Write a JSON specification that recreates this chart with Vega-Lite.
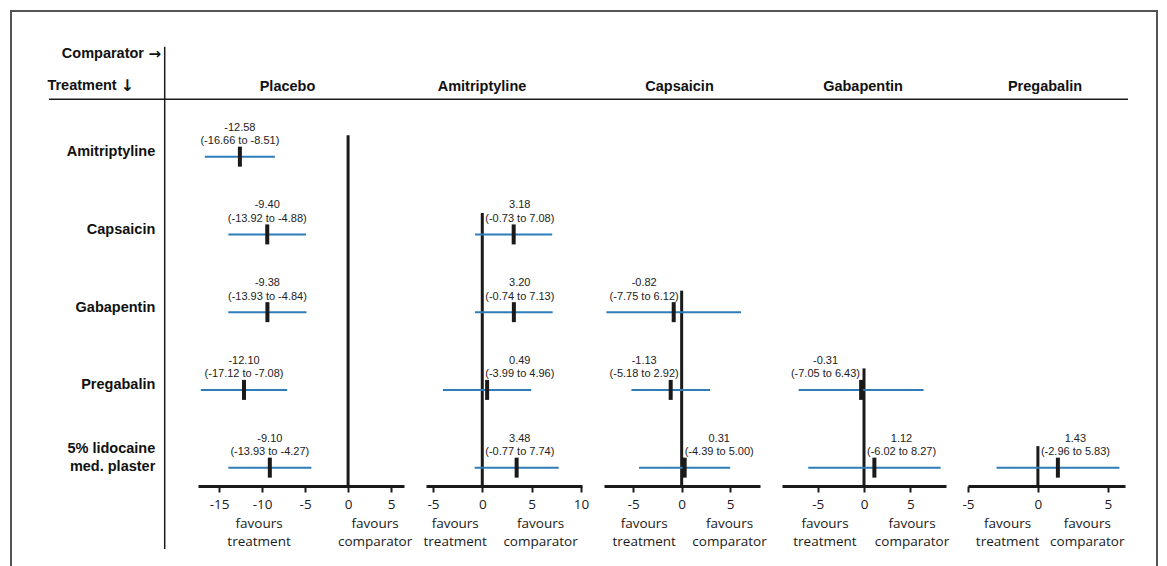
{
  "$schema": "https://vega.github.io/schema/vega-lite/v6.json",
  "background": "white",
  "padding": {"left": 10, "top": 10, "right": 0, "bottom": 0},
  "config": {
    "view": {"stroke": null},
    "font": "Liberation Sans",
    "locale": {"number": {"decimal": ".", "thousands": ",", "grouping": [3], "currency": ["$", ""], "minus": "-"}},
    "title": {"font": "Liberation Sans", "fontSize": 14.5, "fontWeight": "bold", "color": "#111111", "offset": 16, "anchor": "middle"},
    "tick": {"opacity": 1},
    "axisX": {"domainColor": "#1a1a1a", "domainWidth": 3, "tickColor": "#1a1a1a", "tickWidth": 2, "tickSize": 6, "labelFont": "Open Sans", "labelFontSize": 13.5, "labelColor": "#1a1a1a", "labelPadding": 5, "grid": false, "labelFlush": false, "labelOverlap": false, "labelBound": false}
  },
  "datasets": {
    "cmp": [
      {"treatment": "Amitriptyline", "row": 1, "comparator": "Placebo", "est": -12.58, "lo": -16.66, "hi": -8.51, "ci": "(-16.66 to -8.51)"},
      {"treatment": "Capsaicin", "row": 2, "comparator": "Placebo", "est": -9.40, "lo": -13.92, "hi": -4.88, "ci": "(-13.92 to -4.88)"},
      {"treatment": "Gabapentin", "row": 3, "comparator": "Placebo", "est": -9.38, "lo": -13.93, "hi": -4.84, "ci": "(-13.93 to -4.84)"},
      {"treatment": "Pregabalin", "row": 4, "comparator": "Placebo", "est": -12.10, "lo": -17.12, "hi": -7.08, "ci": "(-17.12 to -7.08)"},
      {"treatment": "5% lidocaine med. plaster", "row": 5, "comparator": "Placebo", "est": -9.10, "lo": -13.93, "hi": -4.27, "ci": "(-13.93 to -4.27)"},
      {"treatment": "Capsaicin", "row": 2, "comparator": "Amitriptyline", "est": 3.18, "lo": -0.73, "hi": 7.08, "ci": "(-0.73 to 7.08)"},
      {"treatment": "Gabapentin", "row": 3, "comparator": "Amitriptyline", "est": 3.20, "lo": -0.74, "hi": 7.13, "ci": "(-0.74 to 7.13)"},
      {"treatment": "Pregabalin", "row": 4, "comparator": "Amitriptyline", "est": 0.49, "lo": -3.99, "hi": 4.96, "ci": "(-3.99 to 4.96)"},
      {"treatment": "5% lidocaine med. plaster", "row": 5, "comparator": "Amitriptyline", "est": 3.48, "lo": -0.77, "hi": 7.74, "ci": "(-0.77 to 7.74)"},
      {"treatment": "Gabapentin", "row": 3, "comparator": "Capsaicin", "est": -0.82, "lo": -7.75, "hi": 6.12, "ci": "(-7.75 to 6.12)"},
      {"treatment": "Pregabalin", "row": 4, "comparator": "Capsaicin", "est": -1.13, "lo": -5.18, "hi": 2.92, "ci": "(-5.18 to 2.92)"},
      {"treatment": "5% lidocaine med. plaster", "row": 5, "comparator": "Capsaicin", "est": 0.31, "lo": -4.39, "hi": 5.00, "ci": "(-4.39 to 5.00)"},
      {"treatment": "Pregabalin", "row": 4, "comparator": "Gabapentin", "est": -0.31, "lo": -7.05, "hi": 6.43, "ci": "(-7.05 to 6.43)"},
      {"treatment": "5% lidocaine med. plaster", "row": 5, "comparator": "Gabapentin", "est": 1.12, "lo": -6.02, "hi": 8.27, "ci": "(-6.02 to 8.27)"},
      {"treatment": "5% lidocaine med. plaster", "row": 5, "comparator": "Pregabalin", "est": 1.43, "lo": -2.96, "hi": 5.83, "ci": "(-2.96 to 5.83)"}
    ],
    "trt": [
      {"row": 1, "label": "Amitriptyline"},
      {"row": 2, "label": "Capsaicin"},
      {"row": 3, "label": "Gabapentin"},
      {"row": 4, "label": "Pregabalin"},
      {"row": 5, "label": "5% lidocaine\nmed. plaster"}
    ]
  },
  "bounds": "flush",
  "spacing": 22,
  "hconcat": [
    {
      "width": 165, "height": 376,
      "data": {"name": "trt"},
      "encoding": {"y": {"field": "row", "type": "quantitative", "scale": {"domain": [0.4, 5.236], "reverse": true, "nice": false, "zero": false}, "axis": null}},
      "layer": [
        {"transform": [{"filter": "datum.row == 1"}],
         "mark": {"type": "rect", "filled": false, "color": "#555555", "strokeWidth": 2},
         "encoding": {"x": {"datum": 0, "type": "quantitative", "scale": {"domain": [0, 165], "nice": false, "zero": false}, "axis": null}, "x2": {"datum": 1146}, "y": {"datum": -0.873, "type": "quantitative"}, "y2": {"datum": 7}}},
        {"transform": [{"filter": "datum.row < 5"}],
         "mark": {"type": "text", "align": "right", "baseline": "middle", "dy": -4.5, "fontSize": 14.5, "fontWeight": "bold", "color": "#111111"},
         "encoding": {"x": {"datum": 144.3, "type": "quantitative"}, "text": {"field": "label"}}},
        {"transform": [{"filter": "datum.row == 5"}],
         "mark": {"type": "text", "align": "right", "baseline": "middle", "dy": -18.5, "lineBreak": "\n", "lineHeight": 18, "fontSize": 14.5, "fontWeight": "bold", "color": "#111111"},
         "encoding": {"x": {"datum": 144.3, "type": "quantitative"}, "text": {"field": "label"}}},
        {"transform": [{"filter": "datum.row == 1"}],
         "mark": {"type": "text", "text": "Comparator", "align": "right", "baseline": "middle", "fontSize": 14.5, "fontWeight": "bold", "color": "#111111"},
         "encoding": {"x": {"datum": 133, "type": "quantitative"}, "y": {"datum": -0.32, "type": "quantitative"}}},
        {"transform": [{"filter": "datum.row == 1"}],
         "mark": {"type": "text", "text": "→", "font": "DejaVu Sans", "align": "left", "baseline": "middle", "fontSize": 15, "fontWeight": "bold", "color": "#111111"},
         "encoding": {"x": {"datum": 137.5, "type": "quantitative"}, "y": {"datum": -0.32, "type": "quantitative"}}},
        {"transform": [{"filter": "datum.row == 1"}],
         "mark": {"type": "text", "text": "Treatment", "align": "right", "baseline": "middle", "fontSize": 14.5, "fontWeight": "bold", "color": "#111111"},
         "encoding": {"x": {"datum": 105.7, "type": "quantitative"}, "y": {"datum": 0.091, "type": "quantitative"}}},
        {"transform": [{"filter": "datum.row == 1"}],
         "mark": {"type": "text", "text": "↓", "font": "DejaVu Sans", "align": "left", "baseline": "middle", "fontSize": 16, "fontWeight": "bold", "color": "#111111"},
         "encoding": {"x": {"datum": 109.5, "type": "quantitative"}, "y": {"datum": 0.091, "type": "quantitative"}}},
        {"transform": [{"filter": "datum.row == 1"}],
         "mark": {"type": "rule", "color": "#1a1a1a", "strokeWidth": 1.5},
         "encoding": {"x": {"datum": 153.7, "type": "quantitative"}, "y": {"datum": -0.414, "type": "quantitative"}, "y2": {"datum": 6.046}}},
        {"transform": [{"filter": "datum.row == 1"}],
         "mark": {"type": "rule", "color": "#1a1a1a", "strokeWidth": 1.5},
         "encoding": {"x": {"datum": 38, "type": "quantitative"}, "x2": {"datum": 1117}, "y": {"datum": 0.262, "type": "quantitative"}}}
      ]
    },
    {
      "width": 206, "height": 376,
      "title": {"text": "Placebo", "dx": -13.5},
      "data": {"name": "cmp"},
      "transform": [{"filter": "datum.comparator === 'Placebo'"}],
      "encoding": {"y": {"field": "row", "type": "quantitative", "scale": {"domain": [0.4, 5.236], "reverse": true, "nice": false, "zero": false}, "axis": null}},
      "layer": [
        {"mark": {"type": "rule", "color": "#1a1a1a", "strokeWidth": 3, "yOffset": -21.5},
         "encoding": {"x": {"datum": 0, "type": "quantitative", "scale": {"domain": [-17.45, 6.5], "nice": false, "zero": false}, "axis": {"values": [-15, -10, -5, 0, 5], "title": null}},
                      "y": {"aggregate": "min", "field": "row", "type": "quantitative"}, "y2": {"datum": 5.236}}},
        {"mark": {"type": "rule", "color": "#2f7db8", "strokeWidth": 2},
         "encoding": {"x": {"field": "lo", "type": "quantitative", "title": null}, "x2": {"field": "hi"}}},
        {"mark": {"type": "tick", "orient": "vertical", "color": "#1a1a1a", "opacity": 1, "thickness": 4, "size": 20},
         "encoding": {"x": {"field": "est", "type": "quantitative", "title": null}}},
        {"mark": {"type": "text", "dy": -29, "fontSize": 11, "color": "#222222", "baseline": "middle"},
         "encoding": {"x": {"field": "est", "type": "quantitative", "title": null}, "text": {"field": "est", "type": "quantitative", "format": ".2f"}}},
        {"mark": {"type": "text", "dy": -15.5, "fontSize": 11, "color": "#222222", "baseline": "middle"},
         "encoding": {"x": {"field": "est", "type": "quantitative", "title": null}, "text": {"field": "ci"}}},
        {"transform": [{"filter": "datum.row == 5"}],
         "mark": {"type": "text", "text": ["favours", "treatment"], "font": "Open Sans", "fontSize": 13.5, "lineHeight": 18, "baseline": "top", "color": "#1a1a1a"},
         "encoding": {"x": {"datum": -10.35, "type": "quantitative"}, "y": {"datum": 5.632, "type": "quantitative"}}},
        {"transform": [{"filter": "datum.row == 5"}],
         "mark": {"type": "text", "text": ["favours", "comparator"], "font": "Open Sans", "fontSize": 13.5, "lineHeight": 18, "baseline": "top", "color": "#1a1a1a"},
         "encoding": {"x": {"datum": 3.14, "type": "quantitative"}, "y": {"datum": 5.632, "type": "quantitative"}}}
      ]
    },
    {
      "width": 156, "height": 376,
      "title": {"text": "Amitriptyline", "dx": -22},
      "data": {"name": "cmp"},
      "transform": [{"filter": "datum.comparator === 'Amitriptyline'"}],
      "encoding": {"y": {"field": "row", "type": "quantitative", "scale": {"domain": [0.4, 5.236], "reverse": true, "nice": false, "zero": false}, "axis": null}},
      "layer": [
        {"mark": {"type": "rule", "color": "#1a1a1a", "strokeWidth": 3, "yOffset": -21.5},
         "encoding": {"x": {"datum": 0, "type": "quantitative", "scale": {"domain": [-5.7, 10.1], "nice": false, "zero": false}, "axis": {"values": [-5, 0, 5, 10], "title": null}},
                      "y": {"aggregate": "min", "field": "row", "type": "quantitative"}, "y2": {"datum": 5.236}}},
        {"mark": {"type": "rule", "color": "#2f7db8", "strokeWidth": 2},
         "encoding": {"x": {"field": "lo", "type": "quantitative", "title": null}, "x2": {"field": "hi"}}},
        {"mark": {"type": "tick", "orient": "vertical", "color": "#1a1a1a", "opacity": 1, "thickness": 4, "size": 20},
         "encoding": {"x": {"field": "est", "type": "quantitative", "title": null}}},
        {"transform": [{"filter": "datum.est > 0"}],
         "mark": {"type": "text", "dy": -29, "dx": 37.5, "align": "center", "fontSize": 11, "color": "#222222", "baseline": "middle"},
         "encoding": {"x": {"datum": 0, "type": "quantitative"}, "text": {"field": "est", "type": "quantitative", "format": ".2f"}}},
        {"transform": [{"filter": "datum.est > 0"}],
         "mark": {"type": "text", "dy": -15.5, "dx": 3, "align": "left", "fontSize": 11, "color": "#222222", "baseline": "middle"},
         "encoding": {"x": {"datum": 0, "type": "quantitative"}, "text": {"field": "ci"}}},
        {"transform": [{"filter": "datum.row == 5"}],
         "mark": {"type": "text", "text": ["favours", "treatment"], "font": "Open Sans", "fontSize": 13.5, "lineHeight": 18, "baseline": "top", "color": "#1a1a1a"},
         "encoding": {"x": {"datum": -2.74, "type": "quantitative"}, "y": {"datum": 5.632, "type": "quantitative"}}},
        {"transform": [{"filter": "datum.row == 5"}],
         "mark": {"type": "text", "text": ["favours", "comparator"], "font": "Open Sans", "fontSize": 13.5, "lineHeight": 18, "baseline": "top", "color": "#1a1a1a"},
         "encoding": {"x": {"datum": 5.9, "type": "quantitative"}, "y": {"datum": 5.632, "type": "quantitative"}}}
      ]
    },
    {
      "width": 156, "height": 376,
      "title": {"text": "Capsaicin", "dx": -2.5},
      "data": {"name": "cmp"},
      "transform": [{"filter": "datum.comparator === 'Capsaicin'"}],
      "encoding": {"y": {"field": "row", "type": "quantitative", "scale": {"domain": [0.4, 5.236], "reverse": true, "nice": false, "zero": false}, "axis": null}},
      "layer": [
        {"mark": {"type": "rule", "color": "#1a1a1a", "strokeWidth": 3, "yOffset": -21.5},
         "encoding": {"x": {"datum": 0, "type": "quantitative", "scale": {"domain": [-8.0, 8.07], "nice": false, "zero": false}, "axis": {"values": [-5, 0, 5], "title": null}},
                      "y": {"aggregate": "min", "field": "row", "type": "quantitative"}, "y2": {"datum": 5.236}}},
        {"mark": {"type": "rule", "color": "#2f7db8", "strokeWidth": 2},
         "encoding": {"x": {"field": "lo", "type": "quantitative", "title": null}, "x2": {"field": "hi"}}},
        {"mark": {"type": "tick", "orient": "vertical", "color": "#1a1a1a", "opacity": 1, "thickness": 4, "size": 20},
         "encoding": {"x": {"field": "est", "type": "quantitative", "title": null}}},
        {"transform": [{"filter": "datum.est > 0"}],
         "mark": {"type": "text", "dy": -29, "dx": 37.5, "align": "center", "fontSize": 11, "color": "#222222", "baseline": "middle"},
         "encoding": {"x": {"datum": 0, "type": "quantitative"}, "text": {"field": "est", "type": "quantitative", "format": ".2f"}}},
        {"transform": [{"filter": "datum.est > 0"}],
         "mark": {"type": "text", "dy": -15.5, "dx": 3, "align": "left", "fontSize": 11, "color": "#222222", "baseline": "middle"},
         "encoding": {"x": {"datum": 0, "type": "quantitative"}, "text": {"field": "ci"}}},
        {"transform": [{"filter": "datum.est < 0"}],
         "mark": {"type": "text", "dy": -29, "dx": -37.5, "align": "center", "fontSize": 11, "color": "#222222", "baseline": "middle"},
         "encoding": {"x": {"datum": 0, "type": "quantitative"}, "text": {"field": "est", "type": "quantitative", "format": ".2f"}}},
        {"transform": [{"filter": "datum.est < 0"}],
         "mark": {"type": "text", "dy": -15.5, "dx": -3, "align": "right", "fontSize": 11, "color": "#222222", "baseline": "middle"},
         "encoding": {"x": {"datum": 0, "type": "quantitative"}, "text": {"field": "ci"}}},
        {"transform": [{"filter": "datum.row == 5"}],
         "mark": {"type": "text", "text": ["favours", "treatment"], "font": "Open Sans", "fontSize": 13.5, "lineHeight": 18, "baseline": "top", "color": "#1a1a1a"},
         "encoding": {"x": {"datum": -3.86, "type": "quantitative"}, "y": {"datum": 5.632, "type": "quantitative"}}},
        {"transform": [{"filter": "datum.row == 5"}],
         "mark": {"type": "text", "text": ["favours", "comparator"], "font": "Open Sans", "fontSize": 13.5, "lineHeight": 18, "baseline": "top", "color": "#1a1a1a"},
         "encoding": {"x": {"datum": 4.93, "type": "quantitative"}, "y": {"datum": 5.632, "type": "quantitative"}}}
      ]
    },
    {
      "width": 164, "height": 376,
      "title": {"text": "Gabapentin", "dx": -1},
      "data": {"name": "cmp"},
      "transform": [{"filter": "datum.comparator === 'Gabapentin'"}],
      "encoding": {"y": {"field": "row", "type": "quantitative", "scale": {"domain": [0.4, 5.236], "reverse": true, "nice": false, "zero": false}, "axis": null}},
      "layer": [
        {"mark": {"type": "rule", "color": "#1a1a1a", "strokeWidth": 3, "yOffset": -21.5},
         "encoding": {"x": {"datum": 0, "type": "quantitative", "scale": {"domain": [-8.85, 8.85], "nice": false, "zero": false}, "axis": {"values": [-5, 0, 5], "title": null}},
                      "y": {"aggregate": "min", "field": "row", "type": "quantitative"}, "y2": {"datum": 5.236}}},
        {"mark": {"type": "rule", "color": "#2f7db8", "strokeWidth": 2},
         "encoding": {"x": {"field": "lo", "type": "quantitative", "title": null}, "x2": {"field": "hi"}}},
        {"mark": {"type": "tick", "orient": "vertical", "color": "#1a1a1a", "opacity": 1, "thickness": 4, "size": 20},
         "encoding": {"x": {"field": "est", "type": "quantitative", "title": null}}},
        {"transform": [{"filter": "datum.est > 0"}],
         "mark": {"type": "text", "dy": -29, "dx": 37.5, "align": "center", "fontSize": 11, "color": "#222222", "baseline": "middle"},
         "encoding": {"x": {"datum": 0, "type": "quantitative"}, "text": {"field": "est", "type": "quantitative", "format": ".2f"}}},
        {"transform": [{"filter": "datum.est > 0"}],
         "mark": {"type": "text", "dy": -15.5, "dx": 3, "align": "left", "fontSize": 11, "color": "#222222", "baseline": "middle"},
         "encoding": {"x": {"datum": 0, "type": "quantitative"}, "text": {"field": "ci"}}},
        {"transform": [{"filter": "datum.est < 0"}],
         "mark": {"type": "text", "dy": -29, "dx": -38.5, "align": "center", "fontSize": 11, "color": "#222222", "baseline": "middle"},
         "encoding": {"x": {"datum": 0, "type": "quantitative"}, "text": {"field": "est", "type": "quantitative", "format": ".2f"}}},
        {"transform": [{"filter": "datum.est < 0"}],
         "mark": {"type": "text", "dy": -15.5, "dx": -4, "align": "right", "fontSize": 11, "color": "#222222", "baseline": "middle"},
         "encoding": {"x": {"datum": 0, "type": "quantitative"}, "text": {"field": "ci"}}},
        {"transform": [{"filter": "datum.row == 5"}],
         "mark": {"type": "text", "text": ["favours", "treatment"], "font": "Open Sans", "fontSize": 13.5, "lineHeight": 18, "baseline": "top", "color": "#1a1a1a"},
         "encoding": {"x": {"datum": -4.21, "type": "quantitative"}, "y": {"datum": 5.632, "type": "quantitative"}}},
        {"transform": [{"filter": "datum.row == 5"}],
         "mark": {"type": "text", "text": ["favours", "comparator"], "font": "Open Sans", "fontSize": 13.5, "lineHeight": 18, "baseline": "top", "color": "#1a1a1a"},
         "encoding": {"x": {"datum": 5.18, "type": "quantitative"}, "y": {"datum": 5.632, "type": "quantitative"}}}
      ]
    },
    {
      "width": 157, "height": 376,
      "title": {"text": "Pregabalin", "dx": -1.5},
      "data": {"name": "cmp"},
      "transform": [{"filter": "datum.comparator === 'Pregabalin'"}],
      "encoding": {"y": {"field": "row", "type": "quantitative", "scale": {"domain": [0.4, 5.236], "reverse": true, "nice": false, "zero": false}, "axis": null}},
      "layer": [
        {"mark": {"type": "rule", "color": "#1a1a1a", "strokeWidth": 3, "yOffset": -21.5},
         "encoding": {"x": {"datum": 0, "type": "quantitative", "scale": {"domain": [-5.0, 6.23], "nice": false, "zero": false}, "axis": {"values": [-5, 0, 5], "title": null}},
                      "y": {"aggregate": "min", "field": "row", "type": "quantitative"}, "y2": {"datum": 5.236}}},
        {"mark": {"type": "rule", "color": "#2f7db8", "strokeWidth": 2},
         "encoding": {"x": {"field": "lo", "type": "quantitative", "title": null}, "x2": {"field": "hi"}}},
        {"mark": {"type": "tick", "orient": "vertical", "color": "#1a1a1a", "opacity": 1, "thickness": 4, "size": 20},
         "encoding": {"x": {"field": "est", "type": "quantitative", "title": null}}},
        {"transform": [{"filter": "datum.est > 0"}],
         "mark": {"type": "text", "dy": -29, "dx": 37.5, "align": "center", "fontSize": 11, "color": "#222222", "baseline": "middle"},
         "encoding": {"x": {"datum": 0, "type": "quantitative"}, "text": {"field": "est", "type": "quantitative", "format": ".2f"}}},
        {"transform": [{"filter": "datum.est > 0"}],
         "mark": {"type": "text", "dy": -15.5, "dx": 3, "align": "left", "fontSize": 11, "color": "#222222", "baseline": "middle"},
         "encoding": {"x": {"datum": 0, "type": "quantitative"}, "text": {"field": "ci"}}},
        {"transform": [{"filter": "datum.row == 5"}],
         "mark": {"type": "text", "text": ["favours", "treatment"], "font": "Open Sans", "fontSize": 13.5, "lineHeight": 18, "baseline": "top", "color": "#1a1a1a"},
         "encoding": {"x": {"datum": -2.17, "type": "quantitative"}, "y": {"datum": 5.632, "type": "quantitative"}}},
        {"transform": [{"filter": "datum.row == 5"}],
         "mark": {"type": "text", "text": ["favours", "comparator"], "font": "Open Sans", "fontSize": 13.5, "lineHeight": 18, "baseline": "top", "color": "#1a1a1a"},
         "encoding": {"x": {"datum": 3.53, "type": "quantitative"}, "y": {"datum": 5.632, "type": "quantitative"}}}
      ]
    }
  ]
}
